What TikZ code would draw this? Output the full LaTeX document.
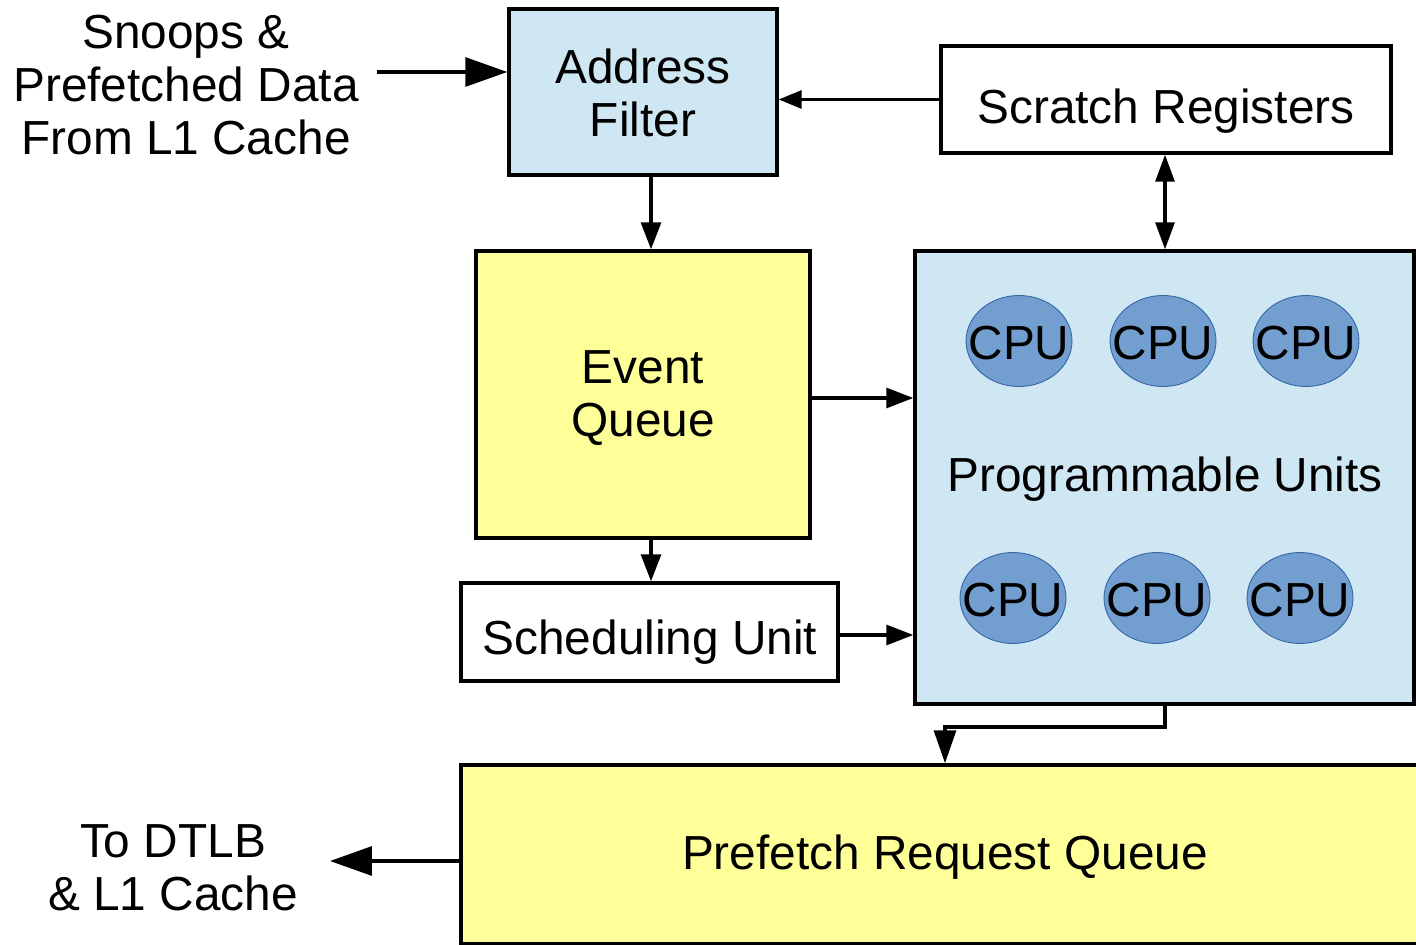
\documentclass[tikz,border=0pt]{standalone}
\usepackage{fontspec}
\setmainfont{Liberation Sans}
\usetikzlibrary{arrows.meta,shapes.geometric,calc}
\definecolor{lblue}{HTML}{CFE6F3}
\definecolor{lyellow}{HTML}{FFFF99}
\definecolor{cpufill}{HTML}{729FCF}
\definecolor{cpuline}{HTML}{3465A4}
\tikzset{
  blk/.style={draw=black, line width=2pt, inner sep=0pt},
  cpu/.style={ellipse, draw=cpuline, line width=0.5pt, fill=cpufill, minimum width=2.12cm, minimum height=1.82cm, inner sep=0pt},
  lbl/.style={inner sep=0pt, align=center, font=\fontsize{27.2}{30.2}\selectfont},
  conn/.style={line width=1.8pt},
  bigarr/.style={conn, -{Triangle[length=0.84cm, width=0.58cm]}},
  marr/.style={conn, -{Triangle[length=0.54cm, width=0.4cm]}},
  sarr/.style={conn, -{Triangle[length=0.46cm, width=0.36cm]}},
  darr/.style={conn, {Triangle[length=0.54cm, width=0.38cm]}-{Triangle[length=0.54cm, width=0.38cm]}},
}
\begin{document}
\begin{tikzpicture}[x=0.02cm, y=-0.02cm]
\clip (0,0) rectangle (1416,945);
\fill[white] (0,0) rectangle (1416,945);
% boxes
\node[blk, fill=lblue, minimum width=5.36cm, minimum height=3.32cm] (af) at (643,92) {};
\node[blk, fill=white, minimum width=9.0cm, minimum height=2.14cm] (sr) at (1166,99.5) {};
\node[blk, fill=lyellow, minimum width=6.68cm, minimum height=5.74cm] (eq) at (643,394.5) {};
\node[blk, fill=white, minimum width=7.54cm, minimum height=1.96cm] (su) at (649.5,632) {};
\node[blk, fill=lblue, minimum width=9.98cm, minimum height=9.06cm] (pu) at (1164.5,477.5) {};
\node[blk, fill=lyellow, minimum width=19.36cm, minimum height=3.58cm] (pr) at (945,854.5) {};
% box texts
\node[lbl] (aft) at (643,93) {Address\\Filter};
\node[lbl] (srt) at (1166,111) {Scratch Registers};
\node[lbl] (eqt) at (643,398) {Event\\Queue};
\node[lbl] (sut) at (650,642) {Scheduling Unit};
\node[lbl] (put) at (1165,479) {Programmable Units};
\node[lbl] (prt) at (945,857) {Prefetch Request Queue};
% CPUs
\foreach \i/\cx/\cy in {1/1019/341, 2/1163/341, 3/1306/341, 4/1013/598, 5/1157/598, 6/1300/598}{
  \node[cpu] (c\i) at (\cx,\cy) {};
  \node[lbl] (ct\i) at (\cx,\cy+2) {CPU};
}
% side labels
\node[lbl] (snoop) at (186,85) {Snoops \&\\Prefetched Data\\From L1 Cache};
\node[lbl] (dtlb) at (173,868) {To DTLB\\\& L1 Cache};
% connector coordinates
\coordinate (s1) at (377,72);
\coordinate (d1) at (330,861);
\coordinate (x1) at (651,0);
\coordinate (y1) at (0,398);
\coordinate (y2) at (0,635);
\coordinate (y3) at (0,727);
\coordinate (x2) at (945,0);
\coordinate (x3) at (1165,0);
% connectors
\draw[bigarr] (s1) -- (s1 -| af.west);
\draw[sarr] (sr.west) -- (sr.west -| af.east);
\draw[marr] (af.south -| x1) -- (eq.north -| x1);
\draw[darr] (sr.south -| x3) -- (pu.north -| x3);
\draw[marr] (eq.east |- y1) -- (pu.west |- y1);
\draw[marr] (eq.south -| x1) -- (su.north -| x1);
\draw[marr] (su.east |- y2) -- (pu.west |- y2);
\draw[conn, -{Triangle[length=0.66cm, width=0.44cm]}] (pu.south -| x3) -- (x3 |- y3) -- (x2 |- y3) -- (pr.north -| x2);
\draw[bigarr] (pr.west |- d1) -- (d1);
\end{tikzpicture}
\end{document}
